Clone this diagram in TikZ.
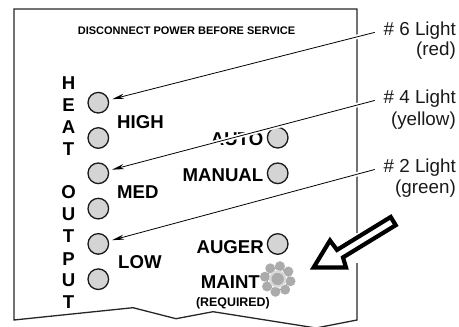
\documentclass[tikz,border=0pt]{standalone}
\usepackage{fontspec}
\setmainfont{Liberation Sans}
\usetikzlibrary{arrows.meta, positioning}

\begin{document}
\begin{tikzpicture}[
        x=1pt, y=-1pt,
        node distance=14.7pt,
        lamp/.style={circle, draw=black!90, line width=1.3pt, fill=black!17, minimum size=20.6pt, inner sep=0pt, outer sep=0pt},
        panel/.style={line width=1.3pt, draw=black!85},
        tag/.style={font=\fontsize{18.6}{20}\bfseries\selectfont, inner sep=0pt, text=black},
        small tag/.style={font=\fontsize{11}{13}\bfseries\selectfont, inner sep=0pt, text=black},
        legend/.style={font=\fontsize{18.8}{20}\selectfont, inner sep=0pt, anchor=base east, text=black!90},
        pointer/.style={-{Stealth[length=12pt, width=5pt]}, line width=0.8pt, shorten <=9pt, shorten >=4pt,
            preaction={draw=white, line width=4.5pt, -, shorten <=9pt, shorten >=4pt}},
        petal/.style={circle, fill=black!33, minimum size=10pt, inner sep=0pt}
    ]
    \useasboundingbox (0,0) rectangle (459,327);

    % Panel
    \draw[panel] (357,233) -- (357,9) -- (14,9) -- (14,320) -- (133,307.7) -- (176,318.7) -- (213,311.7)
        -- (316,328) -- (357,320) -- (357,263);

    % Heading
    \node[small tag, anchor=base] (title) at (186.5,34) {DISCONNECT POWER BEFORE SERVICE};

    % Lamps
    \node[lamp] (high a) at (98.3,102.7) {};
    \node[lamp] (high b) [below=of high a] {};
    \node[lamp] (med a) [below=of high b] {};
    \node[lamp] (med b) [below=of med a] {};
    \node[lamp] (low a) [below=of med b] {};
    \node[lamp] (low b) [below=of low a] {};
    \node[lamp] (auto) at (277.7,137.7) {};
    \node[lamp] (manual) at (277.7,173.3) {};
    \node[lamp] (auger) at (277.7,244) {};

    % Side letters
    \foreach \letter/\ypos/\idx in {H/89.3/1, E/111.7/2, A/133.3/3, T/155/4, O/198.3/5, U/220/6, T/242.7/7, P/265/8, U/286.7/9, T/308.3/10}
        \node[tag, anchor=base] (side\idx) at (68.5,\ypos) {\letter};

    % Lamp labels
    \node[tag, anchor=base west] (high) at (117,128.3) {HIGH};
    \node[tag, anchor=base west] (med) at (117,198.3) {MED};
    \node[tag, anchor=base west] (low) at (118,268.3) {LOW};
    \node[tag, anchor=base east] (autotext) at (263.5,145) {AUTO};
    \node[tag, anchor=base east] (manualtext) at (263.5,181.7) {MANUAL};
    \node[tag, anchor=base east] (augertext) at (264,253.3) {AUGER};
    \node[tag, anchor=base east] (mainttext) at (260,288.3) {MAINT};
    \node[small tag, font=\fontsize{12.4}{14}\bfseries\selectfont, anchor=base east] (required) at (270,306.7) {(REQUIRED)};

    % Maintenance lamp
    \foreach \ang in {-80,-35,...,235}
        \node[petal] at ([shift={(\ang:13)}]277.7,279) {};
    \node[circle, draw=black!15, line width=2.4pt, fill=black!33, minimum size=15pt, inner sep=0pt] (maint) at (277.7,279) {};
    \foreach \ang in {-57,-12,...,258}
        \fill[black!70] ([shift={(\ang:10.5)}]277.7,279) circle (0.45);

    % Legend
    \node[legend] (six) at (456,35) {\# 6 Light};
    \node[legend] (red) at (456,55) {(red)};
    \node[legend] (four) at (456,103) {\# 4 Light};
    \node[legend] (yellow) at (456,125) {(yellow)};
    \node[legend] (two) at (456,172) {\# 2 Light};
    \node[legend] (green) at (456,193) {(green)};

    % Connections
    \draw[pointer] (six.west) -- (high a);
    \draw[pointer] (four.west) -- (med a);
    \draw[pointer] (two.west) -- (low a);

    % Big arrow
    \draw[line width=4.2pt, fill=white, miter limit=10] (390.7,217) -- (395.7,225.2) -- (343,257.4) -- (346,267.5) -- (313.6,267.5) -- (330,240.5) -- (337,249.9) -- cycle;

\end{tikzpicture}
\end{document}
